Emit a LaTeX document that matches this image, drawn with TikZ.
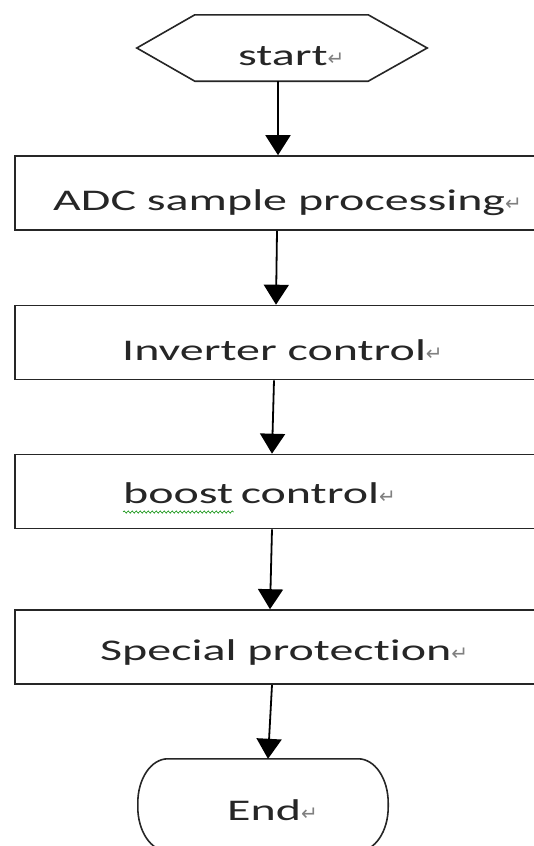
\documentclass[tikz,border=0pt]{standalone}
\usepackage{fontspec}
\setmainfont{Carlito}[FakeStretch=1.6, Ligatures=NoCommon]
\newfontfamily\markfont{DejaVu Sans}
\usetikzlibrary{arrows.meta,calc,decorations.pathmorphing}

% paragraph mark shown after each label
\newcommand{\parmark}{{\markfont\fontsize{20}{20}\selectfont\color{black!50}↵}}

\tikzset{
  outline/.style={draw=black!85, line width=1.6pt},
  stepbox/.style={outline, minimum width=535pt, minimum height=74pt, inner sep=0pt},
  hexbox/.style={minimum width=290pt, minimum height=66pt, inner sep=0pt},
  termbox/.style={minimum width=250pt, minimum height=92pt, inner sep=0pt},
  lbl/.style={anchor=base west, inner sep=0pt, text=black!85,
              font=\fontsize{30}{36}\selectfont},
  flow/.style={draw=black, line width=1.8pt,
               -{Triangle[width=25pt,length=20pt]}},
  squiggle/.style={draw=green!55!black, line width=0.6pt, decorate,
                   decoration={snake, amplitude=1.1pt, segment length=4pt}}
}

\begin{document}
\begin{tikzpicture}[x=1pt,y=1pt]
  \useasboundingbox (0,0) rectangle (534,-846);
  \fill[white] (0,0) rectangle (534,-846);

  % start: hexagon
  \node[hexbox] (start) at (282,-48) {};
  \draw[outline] (start.west) -- ([xshift=58pt]start.north west)
    -- ([xshift=-59pt]start.north east) -- (start.east)
    -- ([xshift=-59pt]start.south east) -- ([xshift=58pt]start.south west) -- cycle;
  \node[lbl] (starttxt) at (238,-65) {start\parmark};

  % process steps
  \node[stepbox] (adc) at (282.5,-193) {};
  \node[lbl] (adctxt) at (53,-210) {ADC sample processing\parmark};

  \node[stepbox] (inv) at (282.5,-342.5) {};
  \node[lbl] (invtxt) at (122,-360) {Inverter control\parmark};

  \node[stepbox] (boost) at (282.5,-491.5) {};
  \node[lbl] (boosttxt) at (123,-503) {boost};
  \node[lbl] (ctrltxt) at ([xshift=7pt]boosttxt.base east) {control\parmark};
  \draw[squiggle] ([yshift=-9pt]boosttxt.base west) -- ([yshift=-9pt]boosttxt.base east);

  \node[stepbox] (prot) at (282.5,-647) {};
  \node[lbl] (prottxt) at (100,-660) {Special protection\parmark};

  % end: rounded terminator
  \node[termbox] (finish) at (263,-805) {};
  \draw[outline] ([xshift=30pt]finish.north west) -- ([xshift=-30pt]finish.north east)
    arc[start angle=90, end angle=0, x radius=30pt, y radius=44pt]
    -- ([yshift=44pt]finish.south east)
    arc[start angle=0, end angle=-90, x radius=30pt, y radius=44pt]
    -- ([xshift=30pt]finish.south west)
    arc[start angle=270, end angle=180, x radius=30pt, y radius=44pt]
    -- ([yshift=-44pt]finish.north west)
    arc[start angle=180, end angle=90, x radius=30pt, y radius=44pt] -- cycle;
  \node[lbl] (endtxt) at (227,-820) {End\parmark};

  % connectors
  \draw[flow] ([xshift=-4pt]start.south) -- ([xshift=-4.5pt]adc.north);
  \draw[flow] ([xshift=-5.5pt]adc.south) -- ([xshift=-6.5pt]inv.north);
  \draw[flow] ([xshift=-8.5pt]inv.south) -- ([xshift=-10.5pt]boost.north);
  \draw[flow] ([xshift=-10.5pt]boost.south) -- ([xshift=-12.5pt]prot.north);
  \draw[flow] ([xshift=-10.5pt]prot.south) -- ([xshift=5pt]finish.north);
\end{tikzpicture}
\end{document}
